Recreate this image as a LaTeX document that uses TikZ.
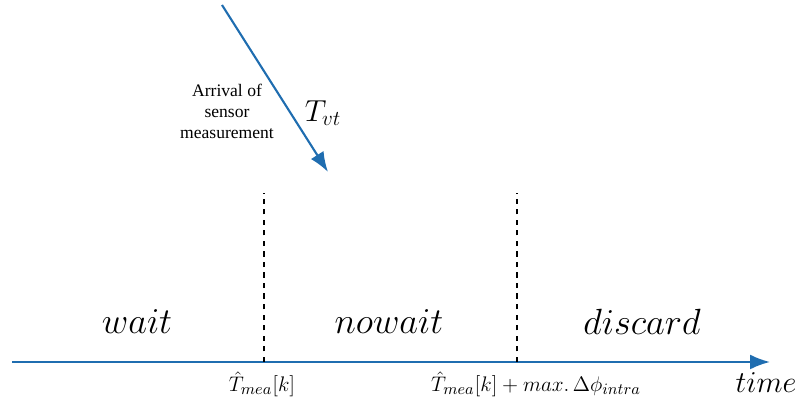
\documentclass[tikz,border=0pt]{standalone}
\usepackage{fontspec}
\setmainfont{Liberation Serif}
\usepackage{tikz}
\usetikzlibrary{positioning, arrows.meta}
\definecolor{axisblue}{HTML}{1F6DB0}

\begin{document}
\begin{tikzpicture}[
  zone/.style={font=\huge},
  tick/.style={font=\fontsize{12.8}{15}\selectfont},
  arr/.style={-{Latex[length=4mm, width=3mm]}, line width=1.2pt, axisblue},
  cut/.style={dashed, line width=0.9pt, black}
]
  \useasboundingbox (0,0) rectangle (15.9,8.06);

  % time axis
  \coordinate (t0) at (0.24,0.82);
  \coordinate (t1) at (15.4,0.82);
  \draw[arr] (t0) -- (t1);

  % boundaries
  \coordinate (b1) at (5.28,0.82);
  \coordinate (b1top) at (5.28,4.2);
  \coordinate (b2) at (10.34,0.82);
  \coordinate (b2top) at (10.34,4.2);
  \draw[cut] (b1) -- (b1top);
  \draw[cut] (b2) -- (b2top);

  \node[zone] (wait) at (2.74,1.62) {$wait$};
  \node[zone] (nowait) at (7.78,1.62) {$nowait$};
  \node[zone] (discard) at (12.84,1.62) {$discard$};

  \node[tick] (tmea) at (5.24,0.38) {$\hat{T}_{mea}[k]$};
  \node[tick] (tmax) at (10.72,0.38) {$\hat{T}_{mea}[k] + max.\,\Delta\phi_{intra}$};
  \node[font=\LARGE] (time) at (15.32,0.4) {$time$};

  % sensor arrival
  \coordinate (s0) at (4.44,7.96);
  \coordinate (s1) at (6.56,4.62);
  \draw[arr] (s0) -- (s1);
  \node[align=center, font=\normalsize] (arrival) at (4.54,5.84) {Arrival of\\sensor\\measurement};
  \node[font=\LARGE] (tvt) at (6.46,5.8) {$T_{vt}$};
\end{tikzpicture}
\end{document}
